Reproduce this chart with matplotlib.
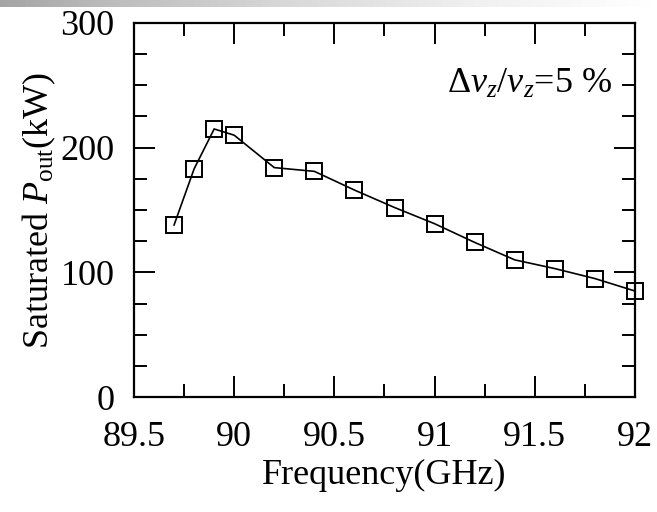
import matplotlib.pyplot as plt
import numpy as np

plt.rcParams['font.family'] = ['Liberation Serif', 'DejaVu Serif']
plt.rcParams['mathtext.fontset'] = 'custom'
plt.rcParams['mathtext.rm'] = 'Liberation Serif'
plt.rcParams['mathtext.it'] = 'Liberation Serif:italic'

# data
freq = [89.7, 89.8, 89.9, 90.0, 90.2, 90.4, 90.6, 90.8, 91.0, 91.2, 91.4, 91.6, 91.8, 92.0]
power = [138, 183, 215, 210, 184, 181, 166, 152, 139, 124, 110, 103, 95, 85]

fs = 26

fig = plt.figure(figsize=(6.57, 5.12), dpi=100)
ax = fig.add_axes([134 / 657, 115 / 512, 501 / 657, 374 / 512])

# thin grey gradient strip at the very top
bar = fig.add_axes([0, 1 - 7 / 512, 1, 7 / 512])
grad = np.linspace(0, 1, 256).reshape(1, -1)
bar.imshow(grad, aspect='auto', cmap='Greys_r', vmin=-1.2, vmax=1.0)
bar.axis('off')

ax.plot(freq, power, color='black', lw=1.2, marker='s', ms=11.5,
        mfc='none', mec='black', mew=1.4, clip_on=False)

ax.set_xlim(89.5, 92)
ax.set_ylim(0, 300)
ax.set_xticks([89.5, 90, 90.5, 91, 91.5, 92])
ax.set_xticklabels(['89.5', '90', '90.5', '91', '91.5', '92'])
ax.set_yticks([0, 100, 200, 300])
ax.set_xticks(np.arange(89.5, 92.01, 0.25), minor=True)
ax.set_yticks(np.arange(0, 301, 25), minor=True)

ax.tick_params(which='both', direction='in', top=True, right=True, width=1.4)
ax.tick_params(which='major', length=15, labelsize=fs)
ax.tick_params(which='minor', length=9.5)
ax.tick_params(axis='x', which='major', pad=17)
ax.tick_params(axis='y', which='major', pad=14)
for s in ax.spines.values():
    s.set_linewidth(1.6)

ax.set_xlabel('Frequency(GHz)', fontsize=fs, labelpad=4)
ax.set_ylabel(r'Saturated $P_{\rm out}$(kW)', fontsize=fs, labelpad=2)

ax.text(0.955, 0.835, r'$\Delta v_z/v_z$=5 %', transform=ax.transAxes,
        ha='right', va='center', fontsize=fs)

fig.savefig('out.png', dpi=100)
